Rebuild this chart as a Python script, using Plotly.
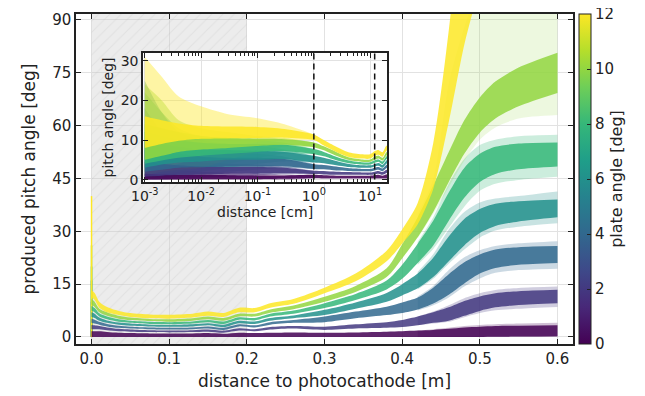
import plotly.graph_objects as go
from plotly.colors import sample_colorscale

# ---------------- data ----------------
PLATE_ANGLES = [0, 2, 4, 6, 8, 10, 12]

# main plot: distance to photocathode [m]
X_MAIN = [0, 0.004, 0.01, 0.02, 0.035, 0.05, 0.075, 0.1, 0.13, 0.15, 0.17, 0.19, 0.21,
          0.23, 0.26, 0.3, 0.34, 0.38, 0.4, 0.42, 0.44, 0.46, 0.48, 0.5, 0.52, 0.55, 0.6]

# dense core of every bundle (lower / upper edge), one list per plate angle
MAIN_LO_0 = [0, 0, 0, 0, 0, 0, 0, 0, 0, 0, 0, 0, 0, 0, 0, 0, 0, 0, 0, 0, 0, 0, 0, 0, 0.05, 0.1, 0.2]
MAIN_HI_0 = [1.6, 1.6, 1.6, 1.4, 1.2, 1.1, 1.0, 1.0, 1.0, 1.1, 0.9, 1.2, 1.1, 1.2, 1.3, 1.2,
             1.3, 1.5, 1.6, 1.8, 2.0, 2.3, 2.7, 2.9, 3.1, 3.2, 3.3]
MAIN_LO_2 = [2.2, 2.2, 2.2, 1.9, 1.6, 1.5, 1.4, 1.3, 1.4, 1.5, 1.2, 1.8, 1.6, 2.1, 2.4, 2.0,
             2.4, 2.6, 2.8, 3.3, 4.0, 4.6, 6.0, 7.4, 8.4, 9.1, 9.6]
MAIN_HI_2 = [3.4, 3.3, 3.1, 2.7, 2.3, 2.1, 1.9, 1.8, 1.9, 2.1, 1.8, 2.5, 2.2, 2.8, 3.1, 2.9,
             3.6, 4.2, 4.8, 5.8, 7.0, 8.4, 10.2, 11.5, 12.4, 13.0, 13.4]
MAIN_LO_4 = [4.0, 3.8, 3.5, 3.0, 2.6, 2.4, 2.2, 2.1, 2.2, 2.4, 2.0, 3.0, 2.7, 3.5, 4.0, 4.2,
             5.3, 6.2, 6.8, 7.8, 9.5, 12.0, 15.2, 18.0, 19.6, 20.5, 21.0]
MAIN_HI_4 = [5.2, 4.9, 4.3, 3.7, 3.2, 2.9, 2.7, 2.6, 2.7, 3.0, 2.6, 3.6, 3.3, 4.2, 4.8, 5.8,
             7.2, 8.6, 9.8, 11.2, 14.0, 17.8, 21.2, 23.4, 24.8, 25.5, 25.8]
MAIN_LO_6 = [5.7, 5.4, 4.6, 4.0, 3.5, 3.2, 3.0, 2.9, 3.0, 3.3, 2.8, 3.9, 3.7, 4.6, 5.3, 6.2,
             8.0, 10.0, 11.8, 13.8, 17.0, 21.5, 26.0, 29.5, 31.5, 32.8, 34.0]
MAIN_HI_6 = [7.0, 6.6, 5.5, 4.7, 4.1, 3.8, 3.5, 3.4, 3.6, 3.9, 3.5, 4.6, 4.4, 5.4, 6.1, 7.7,
             9.8, 12.5, 15.0, 18.0, 22.5, 28.5, 33.5, 36.3, 37.8, 38.5, 39.0]
MAIN_LO_8 = [7.5, 7.0, 5.8, 5.0, 4.3, 4.0, 3.7, 3.6, 3.8, 4.2, 3.7, 4.9, 4.7, 5.8, 6.6, 8.2,
             10.5, 13.5, 16.5, 21.0, 26.0, 33.0, 39.5, 44.0, 46.3, 47.6, 48.4]
MAIN_HI_8 = [8.8, 8.2, 6.7, 5.8, 5.0, 4.6, 4.3, 4.2, 4.4, 4.8, 4.4, 5.6, 5.4, 6.6, 7.5, 9.6,
             12.2, 16.0, 20.5, 26.5, 33.0, 41.0, 48.0, 52.0, 54.0, 54.9, 55.2]
MAIN_LO_10 = [9.2, 8.5, 7.0, 6.0, 5.2, 4.8, 4.5, 4.3, 4.6, 5.0, 4.6, 5.8, 5.8, 6.9, 7.9, 10.0,
              12.8, 17.0, 22.3, 28.3, 35.5, 44.0, 52.0, 58.0, 62.0, 65.5, 69.3]
MAIN_HI_10 = [10.8, 10.0, 8.0, 7.0, 6.0, 5.5, 5.1, 5.0, 5.3, 5.8, 5.4, 6.6, 6.6, 7.8, 8.9, 11.4,
              14.5, 19.5, 26.3, 34.0, 43.0, 52.5, 61.5, 68.0, 72.5, 76.5, 80.7]
MAIN_LO_12 = [11.3, 10.5, 8.3, 7.0, 6.2, 5.7, 5.3, 5.2, 5.5, 6.0, 5.7, 7.0, 7.0, 8.3, 9.4, 12.4,
              15.8, 21.5, 26.5, 32.0, 42.0, 61.0, 83.0, 100.0, 120.0, 150.0, 200.0]
MAIN_HI_12 = [13.2, 12.5, 10.0, 8.5, 7.4, 6.8, 6.4, 6.3, 6.6, 7.2, 6.8, 8.3, 8.2, 9.6, 10.8, 14.0,
              18.0, 24.5, 30.5, 38.0, 55.0, 87.0, 130.0, 160.0, 190.0, 220.0, 280.0]

# faint outer spread of every bundle on the right side
X_SPREAD = [0.42, 0.44, 0.46, 0.48, 0.5, 0.52, 0.55, 0.6]
SPREAD_LO_0 = [0, 0, 0, 0, 0, 0, 0, 0]
SPREAD_HI_0 = [1.8, 2.2, 2.6, 3.1, 3.4, 3.6, 3.8, 4.0]
SPREAD_LO_2 = [3.3, 3.8, 4.3, 5.6, 6.8, 7.6, 8.0, 8.5]
SPREAD_HI_2 = [5.8, 7.2, 9.0, 11.0, 12.4, 13.3, 13.9, 14.3]
SPREAD_LO_4 = [7.5, 9.0, 11.2, 14.3, 16.6, 18.2, 19.0, 19.4]
SPREAD_HI_4 = [11.5, 14.5, 19.0, 22.6, 24.6, 25.8, 26.6, 27.2]
SPREAD_LO_6 = [13.5, 16.5, 20.8, 24.8, 28.2, 30.2, 31.3, 32.3]
SPREAD_HI_6 = [18.5, 23.5, 30.5, 35.5, 38.2, 39.3, 40.0, 41.3]
SPREAD_LO_8 = [20.5, 25.0, 31.0, 37.0, 41.5, 43.5, 44.6, 45.5]
SPREAD_HI_8 = [27.0, 34.0, 43.5, 50.5, 54.5, 56.0, 57.0, 57.4]
SPREAD_LO_10 = [28.0, 35.0, 42.5, 50.0, 56.0, 59.5, 62.0, 63.0]
SPREAD_HI_10 = [35.0, 45.0, 72.0, 88.0, 100.0, 110.0, 110.0, 110.0]

# short spike at the photocathode (x = 0)
SPIKE_X = [0, 0]
SPIKE_TOP = [2, 5, 10, 16, 20, 26, 40]

# inset: distance [cm], log axis
X_IN = [0.001, 0.002, 0.004, 0.01, 0.03, 0.1, 0.3, 1, 1.5, 2.5, 4, 7, 10, 12, 14, 16.5, 19, 20.5]
IN_LO_0 = [0, 0, 0, 0.1, 0.1, 0.1, 0.2, 0.35, 0.3, 0.3, 0.3, 0.3, 0.3, 0.3, 0.3, 0.3, 0.3, 0.3]
IN_HI_0 = [1.5, 1.3, 1.2, 1.2, 1.1, 1.0, 1.0, 1.2, 1.1, 1.0, 1.0, 1.0, 1.0, 1.1, 1.2, 1.0, 1.3, 1.4]
IN_LO_2 = [0.8, 1.0, 1.2, 1.3, 1.5, 1.5, 1.6, 1.4, 1.3, 1.2, 1.2, 1.2, 1.2, 1.3, 1.5, 1.2, 1.6, 1.8]
IN_HI_2 = [4.5, 4.0, 3.6, 3.3, 3.2, 3.2, 3.0, 2.25, 2.2, 2.0, 1.9, 1.8, 1.8, 2.0, 2.2, 1.9, 2.4, 2.7]
IN_LO_4 = [2.0, 2.5, 3.0, 3.1, 3.3, 3.3, 3.4, 2.7, 2.6, 2.3, 2.2, 2.1, 2.1, 2.3, 2.5, 2.1, 2.8, 3.1]
IN_HI_4 = [7.5, 7.0, 6.5, 5.8, 5.5, 5.5, 5.2, 3.9, 3.7, 3.3, 2.9, 2.7, 2.7, 3.0, 3.2, 2.8, 3.6, 4.0]
IN_LO_6 = [3.0, 3.8, 4.3, 4.6, 5.0, 5.0, 5.2, 4.3, 4.1, 3.6, 3.2, 3.0, 3.0, 3.3, 3.5, 3.0, 3.9, 4.3]
IN_HI_6 = [10.0, 9.0, 8.3, 7.6, 7.5, 7.3, 7.0, 6.0, 5.5, 4.7, 4.0, 3.6, 3.6, 3.9, 4.2, 3.7, 4.7, 5.1]
IN_LO_8 = [4.0, 4.8, 5.5, 6.0, 6.5, 7.0, 7.2, 6.4, 5.9, 4.9, 4.2, 3.8, 3.8, 4.2, 4.5, 3.9, 5.0, 5.4]
IN_HI_8 = [12.0, 11.0, 10.0, 9.3, 9.0, 9.0, 8.8, 7.7, 7.0, 5.8, 4.9, 4.4, 4.4, 4.9, 5.1, 4.6, 5.7, 6.2]
IN_LO_10 = [5.0, 6.0, 7.0, 7.6, 8.0, 8.5, 8.8, 8.2, 7.4, 6.0, 5.0, 4.5, 4.5, 5.0, 5.3, 4.8, 5.9, 6.4]
IN_HI_10 = [14.0, 13.0, 12.0, 11.0, 10.5, 10.3, 10.2, 9.4, 8.4, 7.0, 5.7, 5.1, 5.1, 5.8, 6.1, 5.5, 6.8, 7.3]
IN_LO_12 = [8.0, 9.0, 9.8, 10.3, 10.4, 10.5, 10.6, 10.0, 8.6, 7.0, 5.8, 5.3, 5.3, 6.0, 6.3, 5.8, 7.1, 7.6]
IN_HI_12 = [16.0, 15.0, 14.2, 13.6, 13.4, 13.3, 12.8, 11.4, 10.0, 8.3, 7.0, 6.4, 6.4, 7.2, 7.5, 6.9, 8.4, 8.9]

# inset: faint spread of the bundles close to the photocathode
X_IN_SPREAD = [0.001, 0.002, 0.004, 0.01, 0.03, 0.1, 0.3, 1]
IN_SP_LO_0 = [0, 0, 0, 0, 0, 0, 0, 0.35]
IN_SP_HI_0 = [4, 3, 2.5, 2, 1.8, 1.5, 1.2, 1.2]
IN_SP_LO_2 = [0, 0, 0.3, 0.5, 0.7, 1.0, 1.3, 1.4]
IN_SP_HI_2 = [10, 7, 6, 4.5, 4, 3.8, 3.3, 2.25]
IN_SP_LO_4 = [0.3, 0.5, 1, 1.5, 2, 2.5, 3, 2.7]
IN_SP_HI_4 = [18, 12, 9, 7.5, 7, 6.5, 5.8, 3.9]
IN_SP_LO_6 = [0.5, 1, 1.5, 2, 3, 4, 4.6, 4.3]
IN_SP_HI_6 = [25, 17, 12, 10, 9, 8.5, 7.6, 6.0]
IN_SP_LO_8 = [1, 1.5, 2, 3, 4, 5.5, 6.5, 6.4]
IN_SP_HI_8 = [22, 17, 13, 11, 10.5, 10, 9.3, 7.7]
IN_SP_LO_10 = [1, 2, 2.5, 3, 5, 7, 8.3, 8.2]
IN_SP_HI_10 = [24, 20, 15, 13, 12, 11, 10.5, 9.4]
IN_SP_LO_12 = [2, 3, 4, 6, 8, 9.5, 10, 10]
IN_SP_HI_12 = [31, 26, 21, 18.5, 16.5, 15.5, 14, 11.4]

DASH_POSITIONS_CM = [1.0, 12.0]
SHADED_REGION_M = [0.0, 0.2]

MAIN_XTICKS = [0.0, 0.1, 0.2, 0.3, 0.4, 0.5, 0.6]
MAIN_YTICKS = [0, 15, 30, 45, 60, 75, 90]
INSET_XTICKS = [0.001, 0.01, 0.1, 1, 10]
INSET_XTICKTEXT = ["10<sup>-3</sup>", "10<sup>-2</sup>", "10<sup>-1</sup>", "10<sup>0</sup>", "10<sup>1</sup>"]
INSET_YTICKS = [0, 10, 20, 30]
CBAR_TICKS = [0, 2, 4, 6, 8, 10, 12]

MAIN_LO = [MAIN_LO_0, MAIN_LO_2, MAIN_LO_4, MAIN_LO_6, MAIN_LO_8, MAIN_LO_10, MAIN_LO_12]
MAIN_HI = [MAIN_HI_0, MAIN_HI_2, MAIN_HI_4, MAIN_HI_6, MAIN_HI_8, MAIN_HI_10, MAIN_HI_12]
SPREAD_LO = [SPREAD_LO_0, SPREAD_LO_2, SPREAD_LO_4, SPREAD_LO_6, SPREAD_LO_8, SPREAD_LO_10]
SPREAD_HI = [SPREAD_HI_0, SPREAD_HI_2, SPREAD_HI_4, SPREAD_HI_6, SPREAD_HI_8, SPREAD_HI_10]
SPREAD_ALPHA = [0.25, 0.25, 0.25, 0.25, 0.25, 0.17]
IN_LO = [IN_LO_0, IN_LO_2, IN_LO_4, IN_LO_6, IN_LO_8, IN_LO_10, IN_LO_12]
IN_HI = [IN_HI_0, IN_HI_2, IN_HI_4, IN_HI_6, IN_HI_8, IN_HI_10, IN_HI_12]
IN_SP_LO = [IN_SP_LO_0, IN_SP_LO_2, IN_SP_LO_4, IN_SP_LO_6, IN_SP_LO_8, IN_SP_LO_10, IN_SP_LO_12]
IN_SP_HI = [IN_SP_HI_0, IN_SP_HI_2, IN_SP_HI_4, IN_SP_HI_6, IN_SP_HI_8, IN_SP_HI_10, IN_SP_HI_12]

# ---------------- styling ----------------
FONT = "DejaVu Sans"
INK = "#222222"
GRID = "#e2e2e2"
CMAX = 12
colors = sample_colorscale("Viridis", [a / CMAX for a in PLATE_ANGLES])


def rgba(c, a):
    r, g, b = [int(float(v)) for v in c[c.index("(") + 1:c.index(")")].split(",")]
    return f"rgba({r},{g},{b},{a})"


fig = go.Figure()

# shaded region next to photocathode
fig.add_trace(go.Scatter(
    x=[SHADED_REGION_M[0], SHADED_REGION_M[1], SHADED_REGION_M[1], SHADED_REGION_M[0], SHADED_REGION_M[0]],
    y=[-10, -10, 120, 120, -10], mode="lines", line=dict(width=0),
    fill="toself", fillcolor="rgba(0,0,0,0)",
    fillpattern=dict(shape="/", bgcolor="rgba(205,205,205,0.38)", fgcolor="rgba(170,170,170,0.35)",
                     size=8, solidity=0.12),
    hoverinfo="skip", showlegend=False, xaxis="x", yaxis="y"))


def band(x, lo, hi, color, alpha, xa, ya):
    ln = dict(width=0, shape="spline", smoothing=0.8)
    fig.add_trace(go.Scatter(x=x, y=lo, mode="lines", line=ln, hoverinfo="skip",
                             showlegend=False, xaxis=xa, yaxis=ya))
    fig.add_trace(go.Scatter(x=x, y=hi, mode="lines", line=ln, fill="tonexty",
                             fillcolor=rgba(color, alpha), hoverinfo="skip",
                             showlegend=False, xaxis=xa, yaxis=ya))


# main plot: faint spread first, then dense cores
for i in range(len(SPREAD_LO)):
    band(X_SPREAD, SPREAD_LO[i], SPREAD_HI[i], colors[i], SPREAD_ALPHA[i], "x", "y")
for i in range(len(PLATE_ANGLES)):
    fig.add_trace(go.Scatter(x=SPIKE_X, y=[0, SPIKE_TOP[i]], mode="lines",
                             line=dict(color=colors[i], width=1.5), hoverinfo="skip",
                             showlegend=False, xaxis="x", yaxis="y"))
for i in range(len(PLATE_ANGLES)):
    band(X_MAIN, MAIN_LO[i], MAIN_HI[i], colors[i], 0.85, "x", "y")

# inset
for i in range(len(PLATE_ANGLES)):
    band(X_IN_SPREAD, IN_SP_LO[i], IN_SP_HI[i], colors[i], 0.42, "x2", "y2")
for i in range(len(PLATE_ANGLES)):
    band(X_IN, IN_LO[i], IN_HI[i], colors[i], 0.88, "x2", "y2")
for xd in DASH_POSITIONS_CM:
    fig.add_trace(go.Scatter(x=[xd, xd], y=[-5, 40], mode="lines",
                             line=dict(color="#111111", width=1.5, dash="6px,4px"),
                             hoverinfo="skip", showlegend=False, xaxis="x2", yaxis="y2"))

# colour bar
fig.add_trace(go.Scatter(
    x=[None], y=[None], mode="markers", hoverinfo="skip", showlegend=False,
    marker=dict(color=[0], cmin=0, cmax=CMAX, colorscale="Viridis", showscale=True,
                colorbar=dict(thickness=12, len=1, lenmode="fraction", y=0.5, yanchor="middle",
                              x=1.012, xanchor="left", xpad=0, ypad=0,
                              outlinewidth=1, outlinecolor=INK,
                              tickmode="array", tickvals=CBAR_TICKS,
                              ticktext=[str(t) for t in CBAR_TICKS],
                              ticklabeloverflow="allow",
                              ticks="inside", ticklen=4, tickcolor=INK,
                              tickfont=dict(family=FONT, size=15, color=INK),
                              title=dict(text="plate angle [deg]", side="right",
                                         font=dict(family=FONT, size=16, color=INK)))),
    xaxis="x", yaxis="y"))

axis_common = dict(showline=True, linecolor=INK, linewidth=1.5, mirror="ticks",
                   ticks="inside", tickcolor=INK, showgrid=True, gridcolor=GRID,
                   gridwidth=1, zeroline=False)

# the page body adds an 8 px offset, so the figure is 8 px smaller and shifted margins
fig.update_layout(
    width=637, height=388,
    margin=dict(l=68, r=72, t=6, b=52, autoexpand=False),
    paper_bgcolor="white", plot_bgcolor="white",
    font=dict(family=FONT, color=INK),
    showlegend=False,
    xaxis=dict(domain=[0, 1], range=[-0.02, 0.62], tickvals=MAIN_XTICKS, tickformat=".1f",
               ticklen=5, tickfont=dict(size=15),
               title=dict(text="distance to photocathode [m]", font=dict(size=17), standoff=8),
               **axis_common),
    yaxis=dict(domain=[0, 1], range=[-2, 91.7], tickvals=MAIN_YTICKS, ticklen=5,
               tickfont=dict(size=15),
               title=dict(text="produced pitch angle [deg]", font=dict(size=17), standoff=12),
               **axis_common),
    xaxis2=dict(domain=[0.135, 0.626], anchor="y2", type="log", range=[-3.03, 1.3],
                tickvals=INSET_XTICKS, ticktext=INSET_XTICKTEXT, ticklen=5,
                tickfont=dict(size=14),
                minor=dict(ticks="inside", ticklen=3, tickcolor=INK, showgrid=False,
                           tickvals=[m * 10 ** e for e in range(-3, 2) for m in range(2, 10)]),
                title=dict(text="distance [cm]", font=dict(size=14), standoff=2),
                **axis_common),
    yaxis2=dict(domain=[0.491, 0.882], anchor="x2", range=[-0.6, 32], tickvals=INSET_YTICKS,
                ticklen=5, tickfont=dict(size=14),
                title=dict(text="pitch angle [deg]", font=dict(size=14), standoff=4),
                **axis_common),
)

fig.write_html("out.html")
